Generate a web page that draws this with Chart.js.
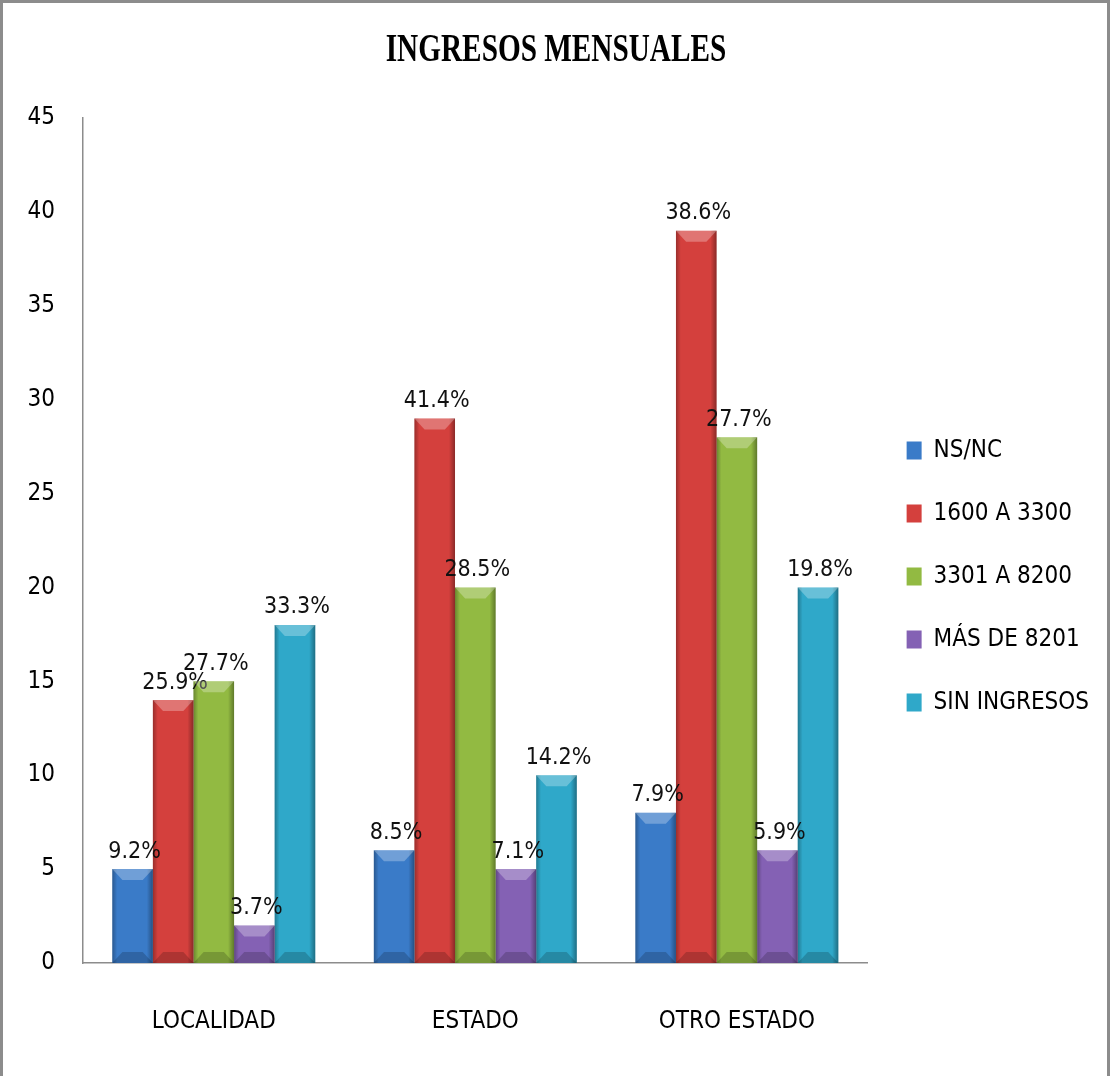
<!DOCTYPE html>
<html>
<head>
<meta charset="utf-8">
<script src="https://cdn.jsdelivr.net/npm/chart.js@4.4.0/dist/chart.umd.min.js"></script>
<style>
body { margin: 0; background: #fff; }
#frame { width: 1110px; height: 1076px; box-sizing: border-box; border: 3px solid #8c8c8c; border-bottom: none; }
#chartBox { position: relative; width: 1104px; height: 1073px; }
</style>
</head>
<body>
<div id="frame"><div id="chartBox"><canvas id="ingresosChart"></canvas></div></div>
<script>
const chartTitle = 'INGRESOS MENSUALES';
const categories = ['LOCALIDAD', 'ESTADO', 'OTRO ESTADO'];
const seriesNames = ['NS/NC', '1600 A 3300', '3301 A 8200', 'MÁS DE 8201', 'SIN INGRESOS'];

const nsnc = [5, 6, 8];
const de1600a3300 = [14, 29, 39];
const de3301a8200 = [15, 20, 28];
const masDe8201 = [2, 5, 6];
const sinIngresos = [18, 10, 20];

const nsncLabels = ['9.2%', '8.5%', '7.9%'];
const de1600a3300Labels = ['25.9%', '41.4%', '38.6%'];
const de3301a8200Labels = ['27.7%', '28.5%', '27.7%'];
const masDe8201Labels = ['3.7%', '7.1%', '5.9%'];
const sinIngresosLabels = ['33.3%', '14.2%', '19.8%'];

const yTicks = { min: 0, max: 45, step: 5 };

const colors = {
    fill: ['#3a7bc8', '#d4403d', '#92ba42', '#8461b4', '#2fa8c9'],
    edge: ['#295c99', '#9e2c2a', '#6a8a2c', '#5d3f88', '#1e7d98']
};

const narrowFont = "'Liberation Sans Narrow', 'DejaVu Sans Condensed', sans-serif";

const allValues = [nsnc, de1600a3300, de3301a8200, masDe8201, sinIngresos];
const allLabels = [nsncLabels, de1600a3300Labels, de3301a8200Labels, masDe8201Labels, sinIngresosLabels];

const datasets = seriesNames.map((name, i) => ({
    label: name,
    data: allValues[i],
    pctLabels: allLabels[i],
    backgroundColor: colors.fill[i],
    borderColor: colors.edge[i],
    borderWidth: 0,
    categoryPercentage: 0.776,
    barPercentage: 1
}));

// bevel look + percentage labels on top of each bar
const barDecor = {
    id: 'barDecor',
    afterDatasetsDraw(chart) {
        const ctx = chart.ctx;
        chart.data.datasets.forEach((ds, di) => {
            const meta = chart.getDatasetMeta(di);
            meta.data.forEach((bar, i) => {
                const w = bar.width;
                const left = bar.x - w / 2;
                const right = bar.x + w / 2;
                const top = bar.y;
                const bottom = bar.base;
                const h = bottom - top;

                ctx.save();
                const g = ctx.createLinearGradient(left, 0, right, 0);
                g.addColorStop(0, 'rgba(0,0,0,0.28)');
                g.addColorStop(0.12, 'rgba(0,0,0,0)');
                g.addColorStop(0.85, 'rgba(0,0,0,0)');
                g.addColorStop(1, 'rgba(0,0,0,0.35)');
                ctx.fillStyle = g;
                ctx.fillRect(left, top, w, h);

                const bev = Math.min(11, h / 2);
                const inset = w * 0.25;
                ctx.fillStyle = 'rgba(255,255,255,0.28)';
                ctx.beginPath();
                ctx.moveTo(left, top);
                ctx.lineTo(right, top);
                ctx.lineTo(right - inset, top + bev);
                ctx.lineTo(left + inset, top + bev);
                ctx.closePath();
                ctx.fill();

                ctx.fillStyle = 'rgba(0,0,0,0.18)';
                ctx.beginPath();
                ctx.moveTo(left, bottom);
                ctx.lineTo(right, bottom);
                ctx.lineTo(right - inset, bottom - bev);
                ctx.lineTo(left + inset, bottom - bev);
                ctx.closePath();
                ctx.fill();
                ctx.restore();

                ctx.save();
                ctx.font = '23px ' + narrowFont;
                ctx.fillStyle = '#111';
                ctx.textAlign = 'center';
                ctx.textBaseline = 'bottom';
                ctx.fillText(ds.pctLabels[i], bar.x + 2, top - 6);
                ctx.restore();
            });
        });
    }
};

const squeezedTitle = {
    id: 'squeezedTitle',
    afterDraw(chart) {
        const ctx = chart.ctx;
        ctx.save();
        ctx.translate(553, 48);
        ctx.scale(0.75, 1);
        ctx.font = "bold 39px 'Liberation Serif', 'DejaVu Serif', serif";
        ctx.fillStyle = '#000';
        ctx.textAlign = 'center';
        ctx.textBaseline = 'middle';
        ctx.fillText(chartTitle, 0, 0);
        ctx.restore();
    }
};

const ctx = document.getElementById('ingresosChart').getContext('2d');
new Chart(ctx, {
    type: 'bar',
    data: {
        labels: categories,
        datasets: datasets
    },
    options: {
        responsive: true,
        maintainAspectRatio: false,
        animation: false,
        layout: {
            padding: { top: 115, left: 25, right: 8, bottom: 41 }
        },
        plugins: {
            title: { display: false },
            tooltip: { enabled: false },
            legend: {
                position: 'right',
                align: 'center',
                labels: {
                    boxWidth: 15,
                    boxHeight: 18,
                    padding: 39,
                    color: '#000',
                    font: { family: narrowFont, size: 24 }
                }
            }
        },
        scales: {
            x: {
                grid: { display: false, drawTicks: false },
                border: { color: '#8c8c8c', width: 1.5 },
                ticks: {
                    color: '#000',
                    padding: 44,
                    font: { family: narrowFont, size: 24 }
                },
                afterFit(scale) { scale.height = 72; }
            },
            y: {
                min: yTicks.min,
                max: yTicks.max,
                grid: { display: false, drawTicks: false },
                border: { color: '#8c8c8c', width: 1.5 },
                ticks: {
                    stepSize: yTicks.step,
                    color: '#000',
                    padding: 28,
                    font: { family: narrowFont, size: 24 }
                },
                afterFit(scale) { scale.width = 55; }
            }
        }
    },
    plugins: [barDecor, squeezedTitle]
});
</script>
</body>
</html>
